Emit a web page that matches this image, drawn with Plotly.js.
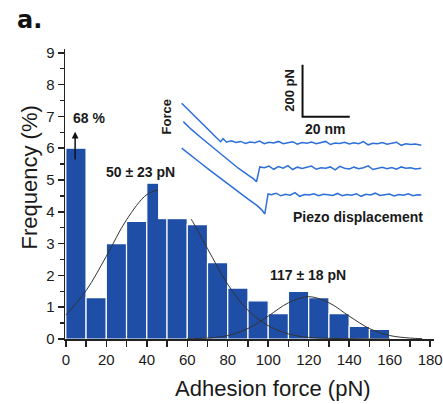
<!DOCTYPE html>
<html><head><meta charset="utf-8">
<script src="https://cdn.plot.ly/plotly-3.0.1.min.js"></script>
<style>html,body{margin:0;padding:0;background:#fff;}#chart{width:443px;height:404px;}</style>
</head><body><div id="chart"></div>
<script>
// Histogram (bin centres, pN) and frequency (%)
const binCenters = [5,15,25,35,45,55,65,75,85,95,105,115,125,135,145,155];
const frequency  = [6.0,1.3,3.0,3.7,4.9,4.2,3.6,2.4,1.6,1.2,0.8,1.5,1.3,0.8,0.4,0.3];
// Fitted curves
const fit1X = [0,10,20,30,40,46,50,60,70,80,90,100,110,120,130,140,150,160];
const fit1Y = [0.75,1.52,2.6,3.75,4.54,4.68,4.62,3.95,2.84,1.72,0.9,0.42,0.16,0.05,0.02,0.01,0.0,0.0];
const fit2X = [60,70,80,90,100,110,120,130,140,150,160,170,176];
const fit2Y = [0.01,0.03,0.11,0.33,0.72,1.14,1.33,1.14,0.72,0.33,0.11,0.03,0.01];
// Inset force curves (nm, pN)
const curve1X = [0,3,6,9,12,14,15.5,16.5,17.5,19,21,23,25,27,29,31,33,35,37,39,41,43,45,47,49,51,53,55,57,59,61,63,65,67,69,71,73,75,77,79,81,83,85,87,89,91,93,95,97,99,101.5];
const curve1Y = [426,400,373,345,318,300,286,278,290,276,281,275,279,271,277,274,280,270,276,273,279,270,274,278,268,275,272,277,270,274,279,267,273,271,276,269,274,270,278,266,272,270,275,268,271,276,264,270,267,269,264];
const curve2X = [0.7,4,8,12,16,20,24,28,30.5,31.7,32.4,33.1,35,37,39,41,43,45,47,49,51,53,55,57,59,61,63,65,67,69,71,73,75,77,79,81,83,85,87,89,91,93,95,97,99,101.5];
const curve2Y = [355,326,295,265,234,204,176,150,135,124,160,181,178,184,172,182,176,186,171,180,175,179,184,172,178,176,181,170,183,176,173,180,174,178,185,171,177,180,174,179,172,181,176,178,173,176];
const curve3X = [0,4,8,12,16,20,24,28,32,34,35.2,35.9,36.6,38,40,42,44,46,48,50,52,54,56,58,60,62,64,66,68,70,72,74,76,78,80,82,84,86,88,90,92,94,96,98,100,101.5];
const curve3Y = [253,226,196,168,140,112,84,58,32,15,0,40,77,74,80,70,76,72,82,68,75,73,78,70,76,74,71,79,70,75,72,78,68,76,73,80,71,74,77,69,75,72,78,70,74,73];
const scaleBarX = [51.2,51.2,71.2];
const scaleBarY = [574,374,374];
const xTicks = [0,20,40,60,80,100,120,140,160,180];
const yTicks = [0,1,2,3,4,5,6,7,8,9];

const sans = 'Liberation Sans, Arial, sans-serif';
const txt = '#1a1a1a';
const traceBlue = '#2c6fd8';

const traces = [
  {type:'bar', x:binCenters, y:frequency, width:10, marker:{color:'#1f4ea6', line:{color:'#ffffff', width:1.2}}, hoverinfo:'skip'},
  {type:'scatter', mode:'lines', x:fit1X, y:fit1Y, line:{color:'#333', width:1, shape:'spline'}, hoverinfo:'skip'},
  {type:'scatter', mode:'lines', x:fit2X, y:fit2Y, line:{color:'#333', width:1, shape:'spline'}, hoverinfo:'skip'},
  {type:'scatter', mode:'lines', x:curve1X, y:curve1Y, xaxis:'x2', yaxis:'y2', line:{color:traceBlue, width:1.5}},
  {type:'scatter', mode:'lines', x:curve2X, y:curve2Y, xaxis:'x2', yaxis:'y2', line:{color:traceBlue, width:1.5}},
  {type:'scatter', mode:'lines', x:curve3X, y:curve3Y, xaxis:'x2', yaxis:'y2', line:{color:traceBlue, width:1.5}},
  {type:'scatter', mode:'lines', x:scaleBarX, y:scaleBarY, xaxis:'x2', yaxis:'y2', line:{color:'#111', width:2}}
];

const layout = {
  width:443, height:404,
  margin:{l:65, r:9, t:49, b:65},
  paper_bgcolor:'#ffffff', plot_bgcolor:'#ffffff',
  showlegend:false,
  bargap:0,
  xaxis:{range:[-0.4,181.9], tickvals:xTicks, ticks:'outside', ticklen:6, tickwidth:1.5, tickcolor:'#222',
         showline:true, linecolor:'#222', linewidth:1.5, showgrid:false, zeroline:false, ticklabeloverflow:'allow',
         minor:{dtick:10, ticks:'outside', ticklen:6, tickwidth:1.5, tickcolor:'#222'},
         tickfont:{family:sans, size:15, color:txt}},
  yaxis:{range:[0,9.12], tickvals:yTicks, ticks:'outside', ticklen:6, tickwidth:1.5, tickcolor:'#222',
         showline:true, linecolor:'#222', linewidth:1.5, showgrid:false, zeroline:false,
         minor:{dtick:0.5, ticks:'outside', ticklen:4, tickwidth:1.5, tickcolor:'#222'},
         tickfont:{family:sans, size:15, color:txt}},
  xaxis2:{domain:[0.2522,0.9892], range:[-10,105.2], anchor:'y2', visible:false, fixedrange:true},
  yaxis2:{domain:[0.4131,0.9621], range:[-20,592], anchor:'x2', visible:false, fixedrange:true},
  annotations:[
    {xref:'paper', yref:'paper', x:-0.135, y:1.1, xanchor:'left', yanchor:'middle', showarrow:false,
     text:'<b>a.</b>', font:{family:'DejaVu Sans, sans-serif', size:24, color:'#111'}},
    {xref:'paper', yref:'paper', x:0.565, y:-0.169, xanchor:'center', yanchor:'middle', showarrow:false,
     text:'Adhesion force (pN)', font:{family:sans, size:22, color:txt}},
    {xref:'paper', yref:'paper', x:-0.0976, y:0.557, xanchor:'center', yanchor:'middle', showarrow:false, textangle:-90,
     text:'Frequency (%)', font:{family:sans, size:22, color:txt}},
    {x:4.6, y:6.52, ax:4.6, ay:5.6, xref:'x', yref:'y', axref:'x', ayref:'y', text:'', showarrow:true,
     arrowhead:2, arrowsize:0.9, arrowwidth:1.5, arrowcolor:'#111'},
    {x:11.3, y:6.95, xref:'x', yref:'y', showarrow:false, text:'<b>68 %</b>', font:{family:sans, size:14, color:txt}},
    {x:36.8, y:5.25, xref:'x', yref:'y', showarrow:false, text:'<b>50 ± 23 pN</b>', font:{family:sans, size:14, color:txt}},
    {x:119.5, y:2.01, xref:'x', yref:'y', showarrow:false, text:'<b>117 ± 18 pN</b>', font:{family:sans, size:14, color:txt}},
    {x:45.8, y:477, xref:'x2', yref:'y2', showarrow:false, textangle:-90, text:'<b>200 pN</b>', font:{family:sans, size:13, color:txt}},
    {x:60.6, y:327, xref:'x2', yref:'y2', showarrow:false, text:'<b>20 nm</b>', font:{family:sans, size:14, color:txt}},
    {x:-6.3, y:374, xref:'x2', yref:'y2', showarrow:false, textangle:-90, text:'<b>Force</b>', font:{family:sans, size:13, color:txt}},
    {x:74.5, y:-10, xref:'x2', yref:'y2', showarrow:false, text:'<b>Piezo displacement</b>', font:{family:sans, size:14, color:txt}}
  ]
};

Plotly.newPlot('chart', traces, layout, {staticPlot:true, displayModeBar:false});
</script></body></html>
